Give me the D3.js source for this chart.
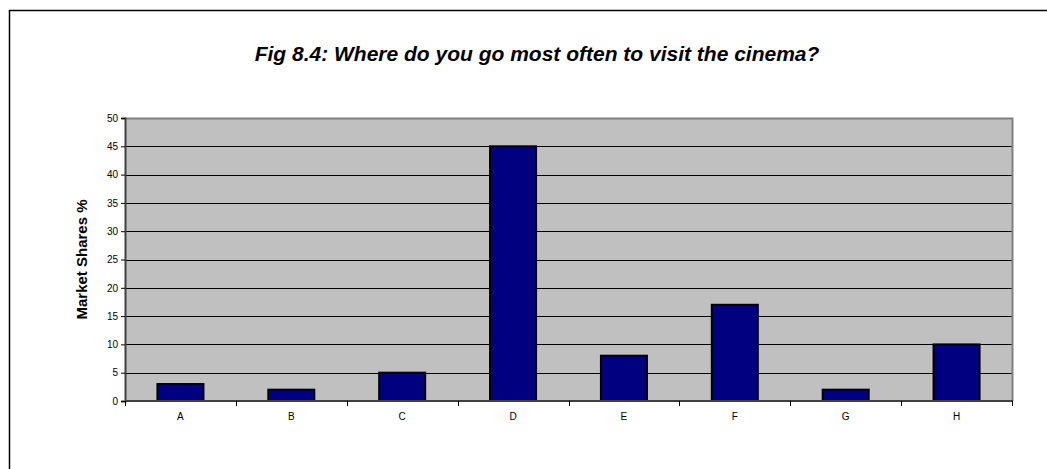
<!DOCTYPE html>
<html>
<head>
<meta charset="utf-8">
<script src="https://cdn.jsdelivr.net/npm/d3@7"></script>
<style>
  html, body { margin: 0; padding: 0; background: #fff; }
  svg { display: block; font-family: Arial, "Liberation Sans", sans-serif; }
</style>
</head>
<body>
<svg id="chart" width="1047" height="469"></svg>
<script>
// Cinema venue categories and their market shares (%)
const categories = ["A", "B", "C", "D", "E", "F", "G", "H"];
const shares = [3, 2, 5, 45, 8, 17, 2, 10];
const yTicks = [0, 5, 10, 15, 20, 25, 30, 35, 40, 45, 50];
const titleText = "Fig 8.4: Where do you go most often to visit the cinema?";
const yLabel = "Market Shares %";

const svg = d3.select("#chart");
const W = 1047, H = 469;
const plot = { left: 125, right: 1012, top: 118, bottom: 401 };

// Outer chart frame (partially outside the canvas on the right and bottom)
svg.append("rect")
  .attr("x", 9.5).attr("y", 10.5)
  .attr("width", W + 20).attr("height", H + 20)
  .attr("fill", "#fff").attr("stroke", "#000").attr("stroke-width", 1.5);

const x = d3.scaleBand().domain(categories).range([plot.left, plot.right]).paddingInner(0.585).paddingOuter(0.2925);
const xEdges = d3.scaleLinear().domain([0, categories.length]).range([plot.left, plot.right]);
const y = d3.scaleLinear().domain([0, 50]).range([plot.bottom, plot.top]);

// Plot area background
svg.append("rect")
  .attr("x", plot.left).attr("y", plot.top)
  .attr("width", plot.right - plot.left).attr("height", plot.bottom - plot.top)
  .attr("fill", "#c0c0c0");

// Horizontal gridlines
svg.append("g").selectAll("line")
  .data(yTicks.filter(d => d > 0 && d < 50))
  .join("line")
  .attr("x1", plot.left).attr("x2", plot.right)
  .attr("y1", d => Math.round(y(d)) + 0.5).attr("y2", d => Math.round(y(d)) + 0.5)
  .attr("stroke", "#000").attr("stroke-width", 1.2);

// Plot area border (top and right in grey)
svg.append("path")
  .attr("d", `M${plot.left},${plot.top + 0.5}H${plot.right + 0.5}V${plot.bottom}`)
  .attr("fill", "none").attr("stroke", "#808080").attr("stroke-width", 2);

// Bars
svg.append("g").selectAll("rect")
  .data(shares)
  .join("rect")
  .attr("x", (d, i) => x(categories[i]))
  .attr("y", d => y(d))
  .attr("width", x.bandwidth())
  .attr("height", d => y(0) - y(d))
  .attr("fill", "#000080")
  .attr("stroke", "#000").attr("stroke-width", 2);

// Y axis
const yAxis = d3.axisLeft(y).tickValues(yTicks).tickSize(4).tickPadding(3);
const gy = svg.append("g").attr("transform", `translate(${plot.left},0)`).call(yAxis);
gy.select(".domain").attr("stroke", "#404040").attr("stroke-width", 2);
gy.selectAll(".tick line").attr("stroke", "#000");
gy.selectAll(".tick text").attr("font-size", 10).attr("fill", "#000").attr("font-family", "Arial, 'Liberation Sans', sans-serif");

// X axis: ticks sit between categories, labels centred under each bar
const gx = svg.append("g").attr("transform", `translate(0,${plot.bottom})`);
gx.append("line")
  .attr("x1", plot.left).attr("x2", plot.right + 1)
  .attr("y1", 0).attr("y2", 0)
  .attr("stroke", "#404040").attr("stroke-width", 2);
gx.selectAll("line.tick")
  .data(d3.range(categories.length + 1))
  .join("line").attr("class", "tick")
  .attr("x1", i => Math.round(xEdges(i)) + 0.5).attr("x2", i => Math.round(xEdges(i)) + 0.5)
  .attr("y1", 0).attr("y2", 5)
  .attr("stroke", "#000");
gx.selectAll("text")
  .data(categories)
  .join("text")
  .attr("x", d => x(d) + x.bandwidth() / 2)
  .attr("y", 19)
  .attr("text-anchor", "middle")
  .attr("font-size", 10)
  .attr("fill", "#000")
  .text(d => d);

// Y axis title
svg.append("text")
  .attr("transform", `translate(87,${(plot.top + plot.bottom) / 2}) rotate(-90)`)
  .attr("text-anchor", "middle")
  .attr("font-size", 15).attr("font-weight", "bold")
  .text(yLabel);

// Chart title
svg.append("text")
  .attr("x", 537).attr("y", 61)
  .attr("text-anchor", "middle")
  .attr("font-size", 21).attr("font-weight", "bold").attr("font-style", "italic")
  .text(titleText);
</script>
</body>
</html>
